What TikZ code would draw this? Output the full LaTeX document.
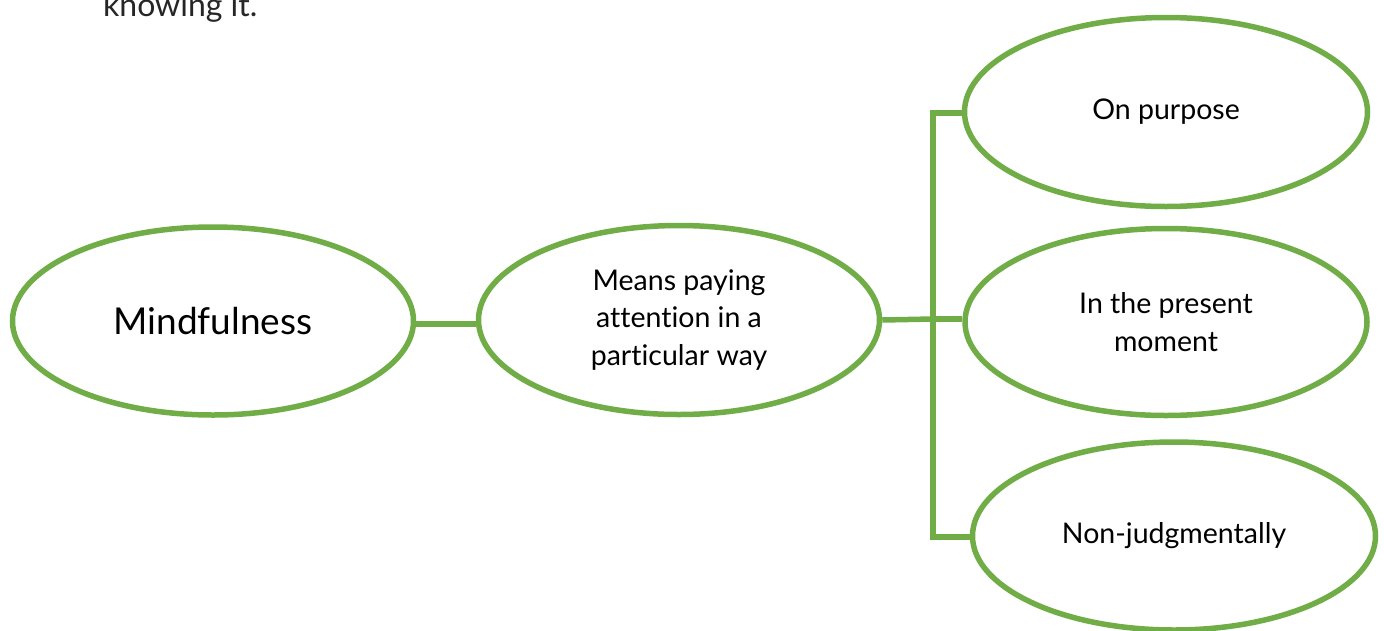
\documentclass[tikz,border=0pt]{standalone}
\usepackage{fontspec}
\setmainfont{Lato}[Ligatures=NoCommon]
\usetikzlibrary{shapes.geometric}
\definecolor{leaf}{HTML}{70AD47}
\tikzset{
  oval/.style={ellipse, draw=leaf, line width=5.5pt, fill=white, inner sep=0pt, align=center, font=\fontsize{28.5}{37.5}\selectfont},
  link/.style={draw=leaf, line width=5.5pt}
}
\begin{document}
\begin{tikzpicture}[x=1pt,y=-1pt]
\useasboundingbox (0,0) rectangle (1384,630);
\node[anchor=base west, font=\fontsize{32}{38}\selectfont, text=black!85, inner sep=0pt] (top) at (103,16) {knowing it.};
\node[oval, minimum width=401pt, minimum height=188pt, font=\fontsize{37}{44}\selectfont] (mind) at (213,321) {Mindfulness};
\node[oval, minimum width=401pt, minimum height=189pt] (means) at (679,320) {Means paying\\attention in a\\particular way};
\node[oval, minimum width=403pt, minimum height=189pt] (onp) at (1166,112) {On purpose};
\node[oval, minimum width=402pt, minimum height=187pt] (pres) at (1166,322) {In the present\\moment};
\node[oval, minimum width=403pt, minimum height=188pt] (nonj) at (1174,536) {Non-judgmentally};
\coordinate (bt) at (933,113);
\coordinate (bm) at (933,319);
\coordinate (bb) at (933,537);
\draw[link] (mind.east |- 0,324) -- (means.west |- 0,324);
\draw[link] (means.east) -- (bm);
\draw[link, line join=miter] (onp.west |- bt) -- (bt) -- (bb) -- (nonj.west |- bb);
\draw[link] (bm) -- (pres.west |- bm);
\end{tikzpicture}
\end{document}
